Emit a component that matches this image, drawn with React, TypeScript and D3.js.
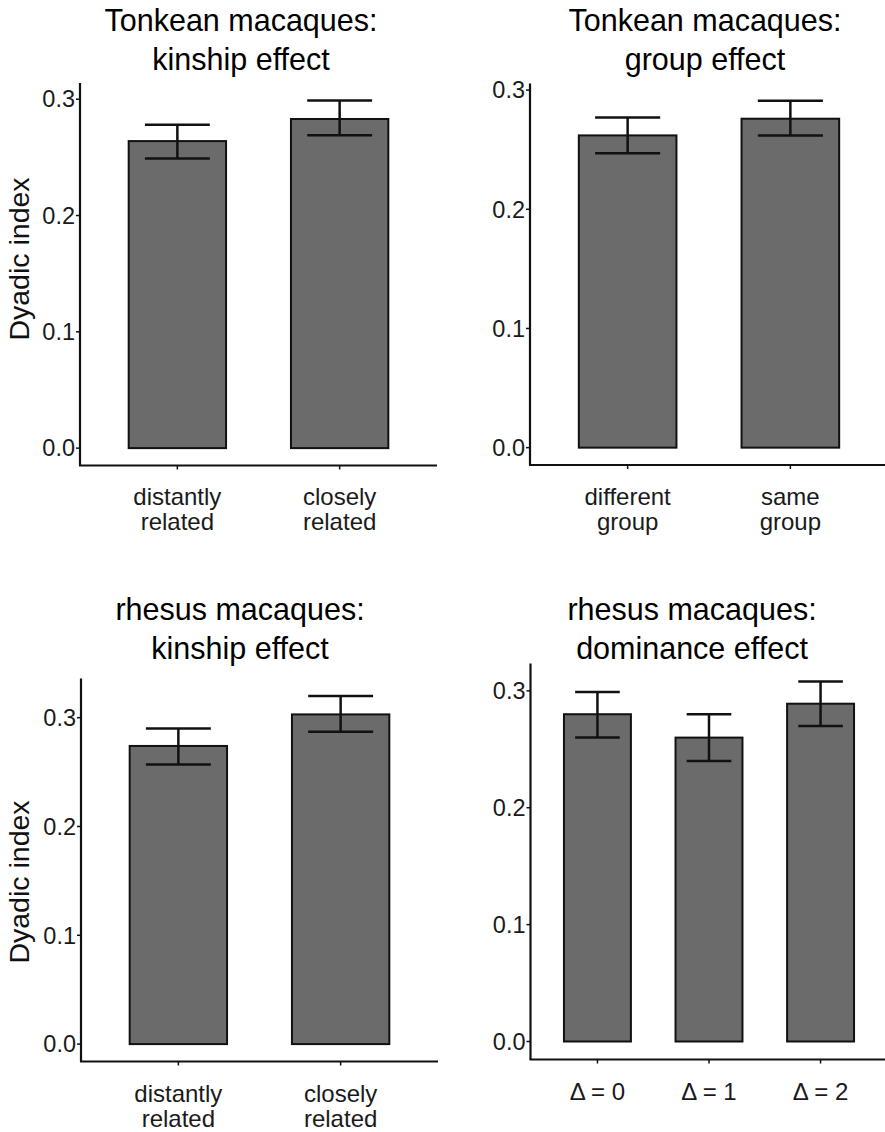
import React from "react";
import * as d3 from "d3";

// ---------- data ----------
const kinshipCats: string[][] = [["distantly", "related"], ["closely", "related"]];
const groupCats: string[][] = [["different", "group"], ["same", "group"]];
const dominanceCats: string[][] = [["Δ = 0"], ["Δ = 1"], ["Δ = 2"]];

const tonkeanKinMean = [0.264, 0.283];
const tonkeanKinLow = [0.249, 0.269];
const tonkeanKinHigh = [0.278, 0.299];

const tonkeanGroupMean = [0.262, 0.276];
const tonkeanGroupLow = [0.247, 0.262];
const tonkeanGroupHigh = [0.277, 0.291];

const rhesusKinMean = [0.274, 0.303];
const rhesusKinLow = [0.257, 0.287];
const rhesusKinHigh = [0.290, 0.320];

const rhesusDomMean = [0.280, 0.260, 0.289];
const rhesusDomLow = [0.260, 0.240, 0.270];
const rhesusDomHigh = [0.299, 0.280, 0.308];

const yTicks = [0, 0.1, 0.2, 0.3];
const yTitle = "Dyadic index";

const titles: string[][] = [
  ["Tonkean macaques:", "kinship effect"],
  ["Tonkean macaques:", "group effect"],
  ["rhesus macaques:", "kinship effect"],
  ["rhesus macaques:", "dominance effect"],
];

// ---------- layout ----------
interface Layout {
  left: number; right: number; top: number; bottom: number;
  titleX: number; titleY: number[];
  labelY: number[];
  yTitleY: number | null;
}

const layouts: Layout[] = [
  { left: 80, right: 437, top: 83, bottom: 465.5, titleX: 241, titleY: [31, 70], labelY: [505, 530], yTitleY: 259 },
  { left: 530, right: 888, top: 83.5, bottom: 465, titleX: 705, titleY: [31, 70], labelY: [505, 530], yTitleY: null },
  { left: 81, right: 438, top: 678.5, bottom: 1061.5, titleX: 240, titleY: [620, 659], labelY: [1102, 1127], yTitleY: 882 },
  { left: 530.5, right: 887.5, top: 663.5, bottom: 1059.5, titleX: 692, titleY: [620, 659], labelY: [1100], yTitleY: null },
];

const FONT = "'Liberation Sans', Arial, Helvetica, sans-serif";

interface PanelProps {
  cats: string[][];
  mean: number[];
  low: number[];
  high: number[];
  title: string[];
  layout: Layout;
}

function Panel({ cats, mean, low, high, title, layout }: PanelProps) {
  const L = layout;
  const maxV = d3.max(high) as number;
  const y = d3.scaleLinear().domain([-0.05 * maxV, 1.05 * maxV]).range([L.bottom, L.top]);
  const idx = cats.map((_, i) => String(i));
  const x = d3.scalePoint<string>().domain(idx).range([L.left, L.right]).padding(0.6);
  const step = x.step();
  const barW = step * 0.6;
  const capW = step * 0.4;

  return (
    <g>
      {title.map((t, i) => (
        <text key={"t" + i} x={L.titleX} y={L.titleY[i]} textAnchor="middle"
          fontSize={30.5} fontFamily={FONT} fill="#000">{t}</text>
      ))}
      {/* bars */}
      {mean.map((m, i) => {
        const cx = x(String(i)) as number;
        return (
          <rect key={"b" + i} x={cx - barW / 2} y={y(m)} width={barW} height={y(0) - y(m)}
            fill="#6b6b6b" stroke="#111" strokeWidth={2} />
        );
      })}
      {/* error bars */}
      {mean.map((_, i) => {
        const cx = x(String(i)) as number;
        return (
          <g key={"e" + i} stroke="#111" strokeWidth={2.5}>
            <line x1={cx} x2={cx} y1={y(low[i])} y2={y(high[i])} />
            <line x1={cx - capW / 2} x2={cx + capW / 2} y1={y(high[i])} y2={y(high[i])} />
            <line x1={cx - capW / 2} x2={cx + capW / 2} y1={y(low[i])} y2={y(low[i])} />
          </g>
        );
      })}
      {/* y axis */}
      <line x1={L.left} x2={L.left} y1={L.top} y2={L.bottom} stroke="#111" strokeWidth={2.2} />
      {yTicks.map((t) => (
        <g key={"yt" + t}>
          <line x1={L.left - 4} x2={L.left} y1={y(t)} y2={y(t)} stroke="#111" strokeWidth={1.5} />
          <text x={L.left - 5} y={y(t)} dy="0.35em" textAnchor="end" fontSize={23.5}
            fontFamily={FONT} fill="#1a1a1a">{d3.format(".1f")(t)}</text>
        </g>
      ))}
      {/* x axis */}
      <line x1={L.left - 1} x2={L.right} y1={L.bottom} y2={L.bottom} stroke="#111" strokeWidth={2.2} />
      {cats.map((c, i) => {
        const cx = x(String(i)) as number;
        return (
          <g key={"xt" + i}>
            <line x1={cx} x2={cx} y1={L.bottom} y2={L.bottom + 4} stroke="#111" strokeWidth={1.5} />
            {c.map((line, j) => (
              <text key={j} x={cx} y={L.labelY[j]} textAnchor="middle" fontSize={24}
                fontFamily={FONT} fill="#1a1a1a">{line}</text>
            ))}
          </g>
        );
      })}
      {L.yTitleY !== null && (
        <text transform={`translate(29,${L.yTitleY}) rotate(-90)`} textAnchor="middle"
          fontSize={28.5} fontFamily={FONT} fill="#111">{yTitle}</text>
      )}
    </g>
  );
}

export default function App() {
  return (
    <svg width={885} height={1132} style={{ position: "absolute", left: 0, top: 0, background: "#fff" }}>
      <rect width={885} height={1132} fill="#fff" />
      <Panel cats={kinshipCats} mean={tonkeanKinMean} low={tonkeanKinLow} high={tonkeanKinHigh}
        title={titles[0]} layout={layouts[0]} />
      <Panel cats={groupCats} mean={tonkeanGroupMean} low={tonkeanGroupLow} high={tonkeanGroupHigh}
        title={titles[1]} layout={layouts[1]} />
      <Panel cats={kinshipCats} mean={rhesusKinMean} low={rhesusKinLow} high={rhesusKinHigh}
        title={titles[2]} layout={layouts[2]} />
      <Panel cats={dominanceCats} mean={rhesusDomMean} low={rhesusDomLow} high={rhesusDomHigh}
        title={titles[3]} layout={layouts[3]} />
    </svg>
  );
}
